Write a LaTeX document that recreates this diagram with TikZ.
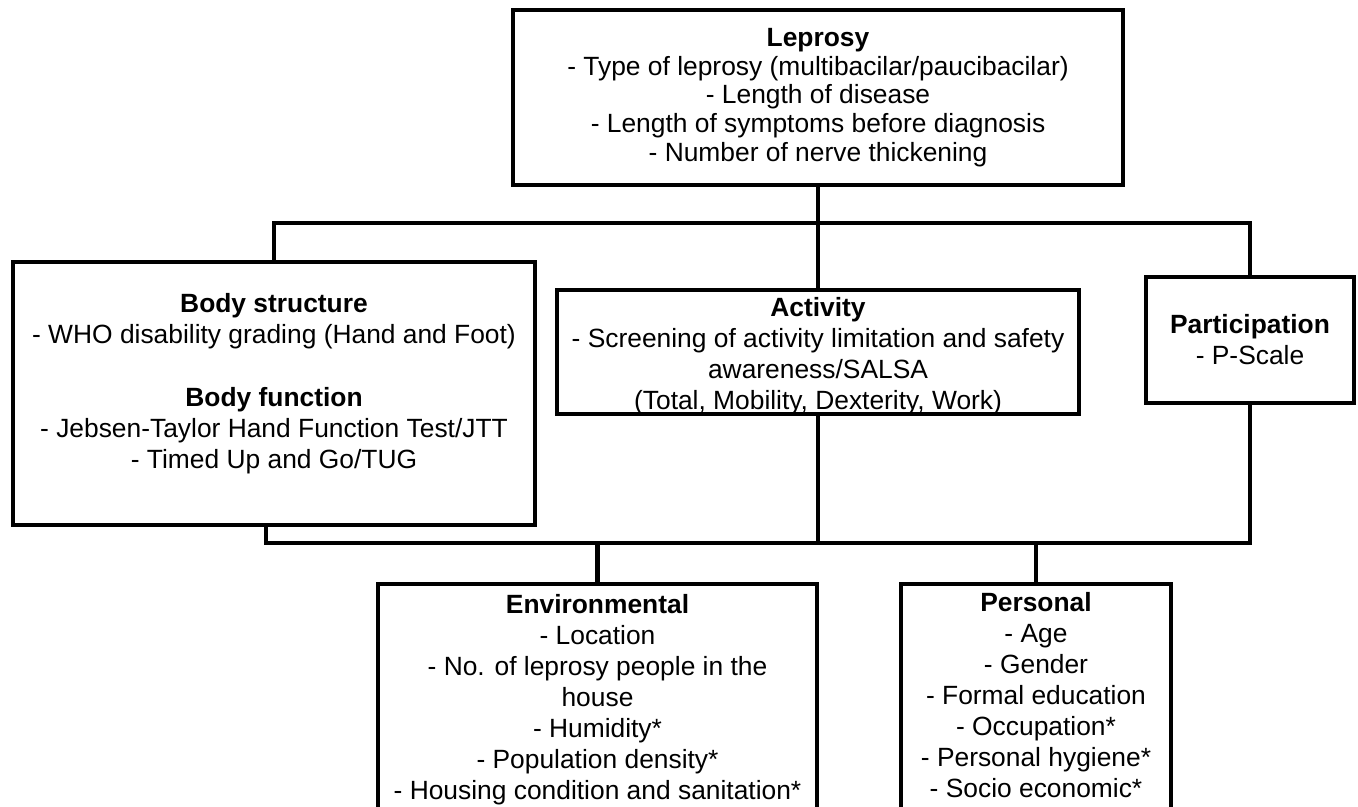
\documentclass[tikz,border=0pt]{standalone}
\usepackage{fontspec}
\setmainfont{Liberation Sans}
\usepackage{tikz}
\usetikzlibrary{positioning, calc}

\begin{document}
\begin{tikzpicture}[x=0.01cm, y=-0.01cm,
    box/.style={rectangle, draw, line width=1.2pt, inner sep=0pt},
    txt/.style={align=center, inner sep=0pt, font=\fontsize{7.5pt}{8.8pt}\selectfont},
    link/.style={line width=1.2pt}]

    \useasboundingbox (0,0) rectangle (1358,806);
    \clip (0,0) rectangle (1358,806);

    % Leprosy box
    \node[box, minimum width=6.09cm, minimum height=1.75cm] (leprosy) at (818,97.5) {};
    \node[txt, font=\fontsize{7.5pt}{8.2pt}\selectfont] (leprosy_text) at (leprosy.center) {\textbf{Leprosy}\\
        - Type of leprosy (multibacilar/paucibacilar)\\
        - Length of disease\\
        - Length of symptoms before diagnosis\\
        - Number of nerve thickening};

    % Middle row
    \node[box, minimum width=5.22cm, minimum height=2.63cm] (body) at (274,393.5) {};
    \node[txt] (body_text) at ([yshift=0.1cm]body.center) {\textbf{Body structure}\\
        - WHO disability grading (Hand and Foot)\\[9pt]
        \textbf{Body function}\\
        - Jebsen-Taylor Hand Function Test/JTT\\
        - Timed Up and Go/TUG};

    \node[box, minimum width=5.22cm, minimum height=1.24cm] (activity) at (818,352) {};
    \node[txt] (activity_text) at ([yshift=-0.04cm]activity.center) {\textbf{Activity}\\
        - Screening of activity limitation and safety\\
        awareness/SALSA\\
        (Total, Mobility, Dexterity, Work)};

    \node[box, minimum width=2.08cm, minimum height=1.26cm] (particip) at (1250,340) {};
    \node[txt] (particip_text) at (particip.center) {\textbf{Participation}\\
        - P-Scale};

    % Bottom row (cut off by the page edge)
    \node[box, minimum width=4.39cm, minimum height=2.46cm] (environ) at (597.5,707) {};
    \node[txt] (environ_text) at (597.5,700) {\textbf{Environmental}\\
        - Location\\
        - No. of leprosy people in the\\
        house\\
        - Humidity*\\
        - Population density*\\
        - Housing condition and sanitation*};

    \node[box, minimum width=2.70cm, minimum height=2.46cm] (personal) at (1036,707) {};
    \node[txt] (personal_text) at (1036,695) {\textbf{Personal}\\
        - Age\\
        - Gender\\
        - Formal education\\
        - Occupation*\\
        - Personal hygiene*\\
        - Socio economic*};

    % Connectors
    \coordinate (top_bar) at (818,223);
    \coordinate (bottom_bar) at (818,543);
    \draw[link] (leprosy.south) -- (activity.north);
    \draw[link] (body.north) |- (top_bar) -| (particip.north);
    \draw[link] ([xshift=-0.08cm]body.south) |- (bottom_bar) -| (particip.south);
    \draw[link] (activity.south) -- (bottom_bar);
    \draw[link] (environ.north) |- (bottom_bar);
    \draw[link] (personal.north) |- (bottom_bar);

\end{tikzpicture}
\end{document}
